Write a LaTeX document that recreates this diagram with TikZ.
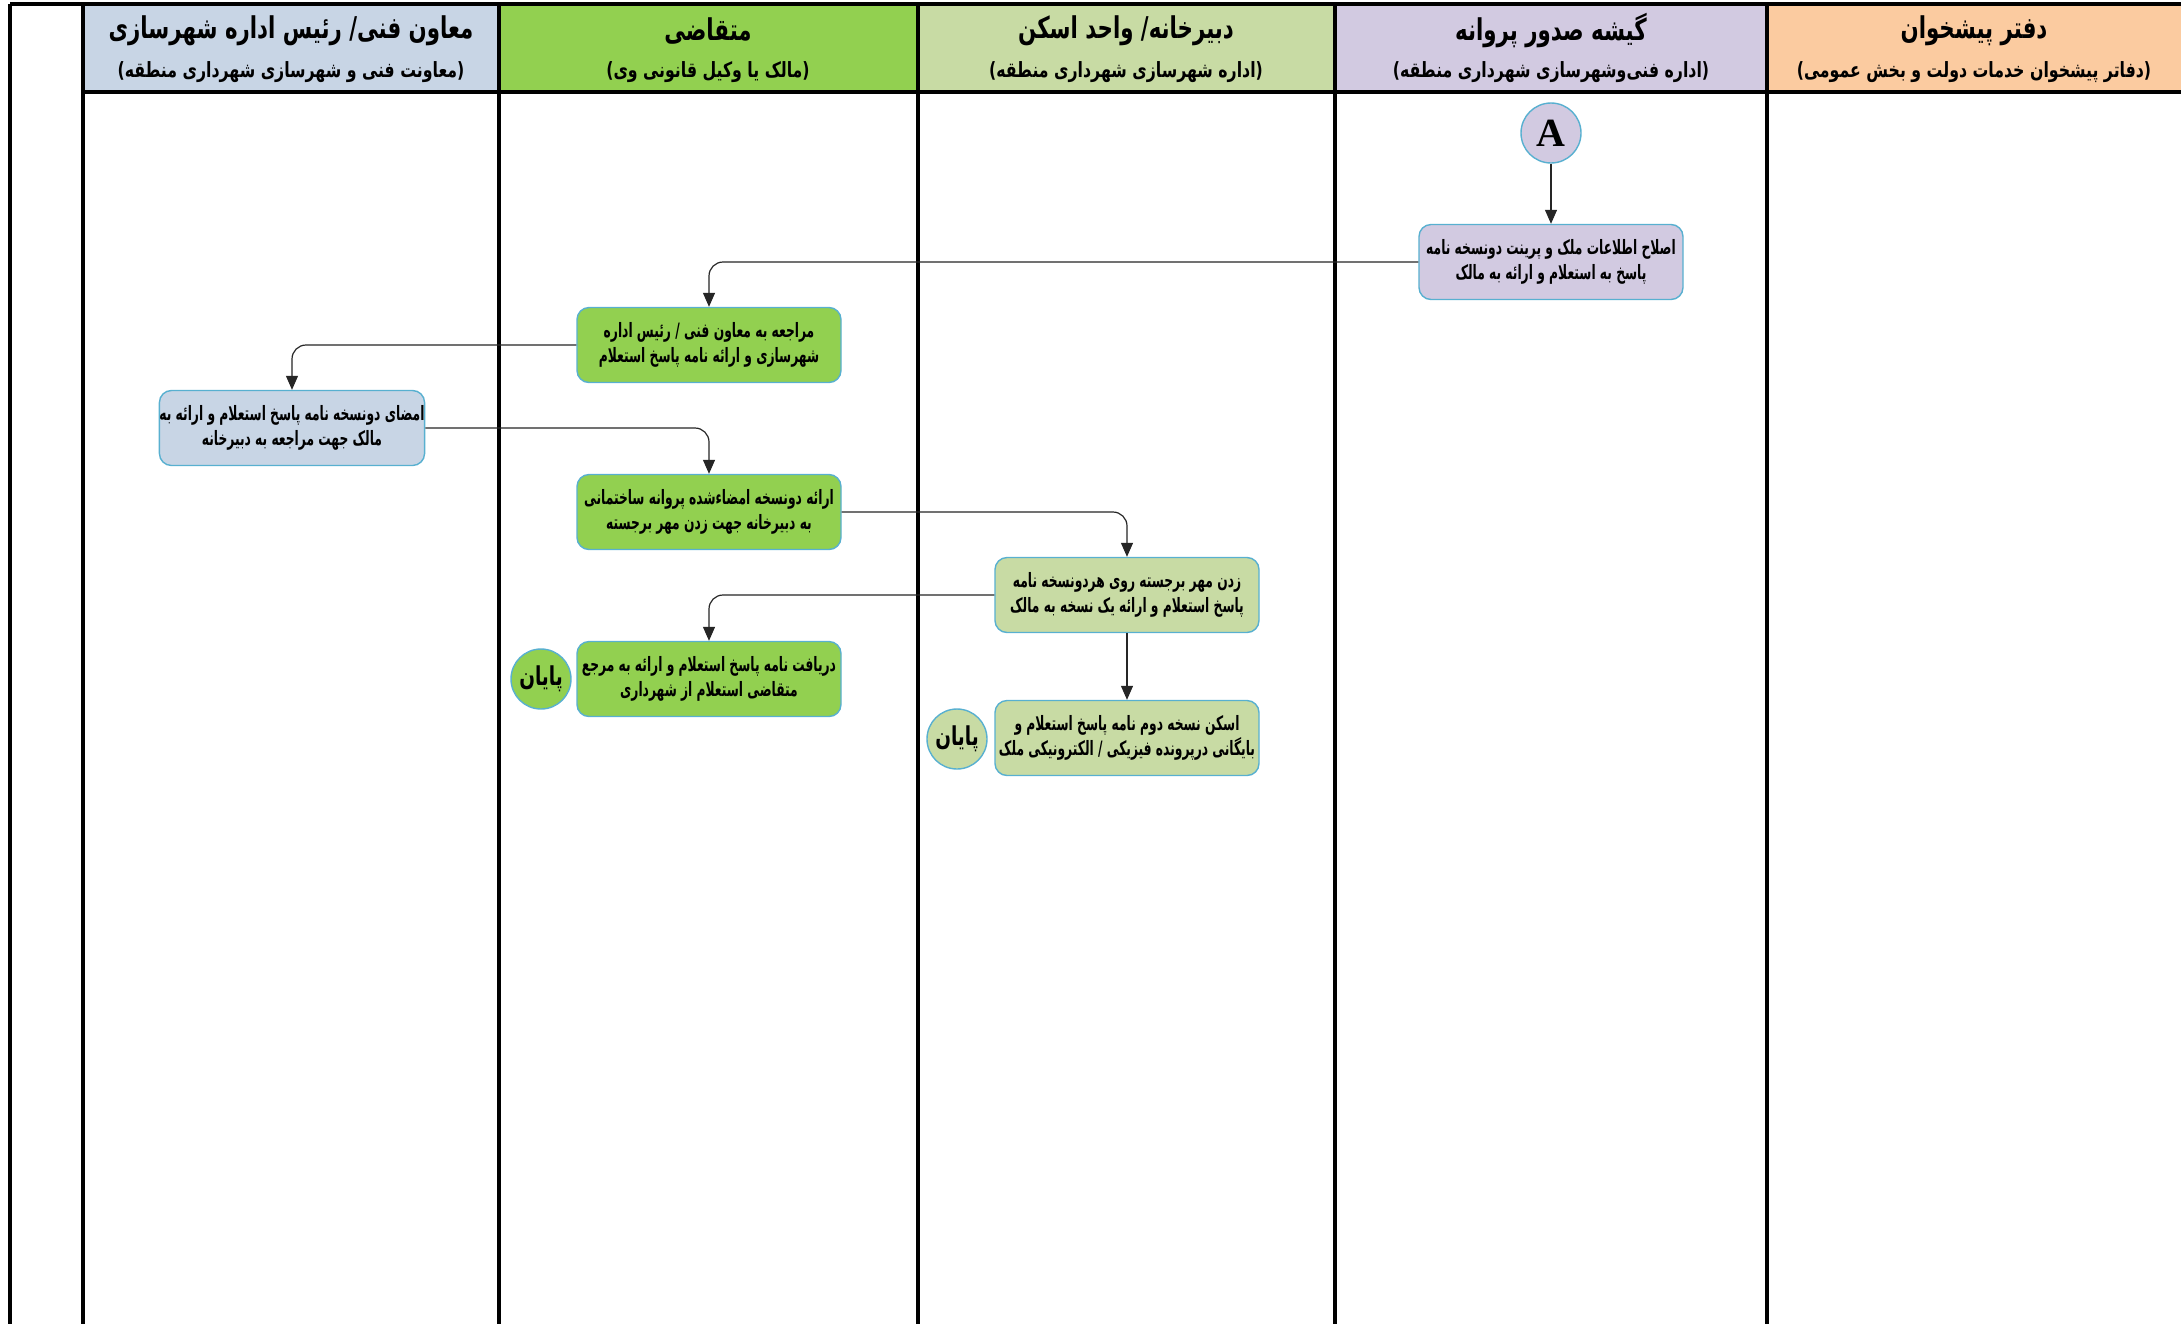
\documentclass[tikz,border=0pt]{standalone}
\usepackage{fontspec}
\TeXXeTstate=1
\newfontfamily\arfont[Script=Arabic,FakeStretch=0.62]{DejaVu Sans}
\newfontfamily\arhfont[Script=Arabic,FakeStretch=0.71]{DejaVu Sans}
\newfontfamily\arsfont[Script=Arabic,FakeStretch=0.75]{DejaVu Sans}
\newfontfamily\parfont[FakeStretch=0.75]{DejaVu Sans}
\newfontfamily\latserif{Liberation Serif}
\usetikzlibrary{arrows.meta}
\definecolor{cblue}{RGB}{200,213,229}
\definecolor{cgreen}{RGB}{146,208,80}
\definecolor{clgreen}{RGB}{200,219,164}
\definecolor{cpurple}{RGB}{210,202,225}
\definecolor{corange}{RGB}{251,203,160}
\definecolor{cborder}{RGB}{88,176,208}
\newcommand{\ar}[1]{\beginR #1\endR}
\newcommand{\parar}[1]{{\parfont(}\beginR #1\endR{\parfont)}}
\tikzset{
  lane/.style={line width=1.7pt, draw=black},
  htitle/.style={font=\arhfont\bfseries\fontsize{15}{17}\selectfont, inner sep=0pt},
  hsub/.style={font=\arsfont\bfseries\fontsize{10.5}{12}\selectfont, inner sep=0pt},
  stepbox/.style={rectangle, rounded corners=6pt, minimum width=132pt, minimum height=37.5pt,
     draw=cborder, line width=0.7pt, inner sep=0pt, align=center,
     font=\arfont\bfseries\fontsize{9.9}{12.8}\selectfont},
  endcirc/.style={circle, minimum size=30pt, inner sep=0pt, draw=cborder, line width=0.7pt,
     font=\arhfont\bfseries\fontsize{13}{13}\selectfont},
  arr/.style={draw=black!85, line width=0.6pt, rounded corners=7pt,
     -{Triangle[length=7pt,width=6pt]}}
}
\begin{document}
\begin{tikzpicture}[x=0.5pt,y=-0.5pt]
\useasboundingbox (0,0) rectangle (2181,1324);
\fill[white] (0,0) rectangle (2181,1324);
% header fills
\fill[cblue] (83,4) rectangle (499,92);
\fill[cgreen] (499,4) rectangle (918,92);
\fill[clgreen] (918,4) rectangle (1335,92);
\fill[cpurple] (1335,4) rectangle (1767,92);
\fill[corange] (1767,4) rectangle (2181,92);
% lane lines
\draw[lane] (10,4) -- (2181,4);
\draw[lane] (83,92) -- (2181,92);
\foreach \xx in {10,83,499,918,1335,1767} { \draw[lane] (\xx,4) -- (\xx,1324); }
% header texts
\node[htitle] (h1) at (291,31) {\ar{معاون فنی/ رئیس اداره شهرسازی}};
\node[hsub] (s1) at (291,72) {\parar{معاونت فنی و شهرسازی شهرداری منطقه}};
\node[htitle] (h2) at (708,31) {\ar{متقاضی}};
\node[hsub] (s2) at (708,72) {\parar{مالک یا وکیل قانونی وی}};
\node[htitle] (h3) at (1126,31) {\ar{دبیرخانه/ واحد اسکن}};
\node[hsub] (s3) at (1126,72) {\parar{اداره شهرسازی شهرداری منطقه}};
\node[htitle] (h4) at (1551,31) {\ar{گیشه صدور پروانه}};
\node[hsub] (s4) at (1551,72) {\parar{اداره فنی‌وشهرسازی شهرداری منطقه}};
\node[htitle] (h5) at (1974,31) {\ar{دفتر پیشخوان}};
\node[hsub] (s5) at (1974,72) {\parar{دفاتر پیشخوان خدمات دولت و بخش عمومی}};
% nodes
\node[endcirc, fill=cpurple, font=\latserif\bfseries\fontsize{20}{20}\selectfont] (A) at (1551,133) {A};
\node[stepbox, fill=cpurple] (b1) at (1551,262) {\ar{اصلاح اطلاعات ملک و پرینت دونسخه نامه}\\\ar{پاسخ به استعلام و ارائه به مالک}};
\node[stepbox, fill=cgreen] (b2) at (709,345) {\ar{مراجعه به معاون فنی / رئیس اداره}\\\ar{شهرسازی و ارائه نامه پاسخ استعلام}};
\node[stepbox, fill=cblue] (b3) at (292,428) {\ar{امضای دونسخه نامه پاسخ استعلام و ارائه به}\\\ar{مالک جهت مراجعه به دبیرخانه}};
\node[stepbox, fill=cgreen] (b4) at (709,512) {\ar{ارائه دونسخه امضاءشده پروانه ساختمانی}\\\ar{به دبیرخانه جهت زدن مهر برجسته}};
\node[stepbox, fill=clgreen] (b5) at (1127,595) {\ar{زدن مهر برجسته روی هردونسخه نامه}\\\ar{پاسخ استعلام و ارائه یک نسخه به مالک}};
\node[stepbox, fill=cgreen] (b6) at (709,679) {\ar{دریافت نامه پاسخ استعلام و ارائه به مرجع}\\\ar{متقاضی استعلام از شهرداری}};
\node[stepbox, fill=clgreen] (b7) at (1127,738) {\ar{اسکن نسخه دوم نامه پاسخ استعلام و}\\\ar{بایگانی درپرونده فیزیکی / الکترونیکی ملک}};
\node[endcirc, fill=cgreen] (e1) at (541,679) {\ar{پایان}};
\node[endcirc, fill=clgreen] (e2) at (957,739) {\ar{پایان}};
% connectors
\draw[arr] (A.south) -- (b1.north);
\draw[arr] (b1.west) -| (b2.north);
\draw[arr] (b2.west) -| (b3.north);
\draw[arr] (b3.east) -| (b4.north);
\draw[arr] (b4.east) -| (b5.north);
\draw[arr] (b5.west) -| (b6.north);
\draw[arr] (b5.south) -- (b7.north);
\end{tikzpicture}
\end{document}
